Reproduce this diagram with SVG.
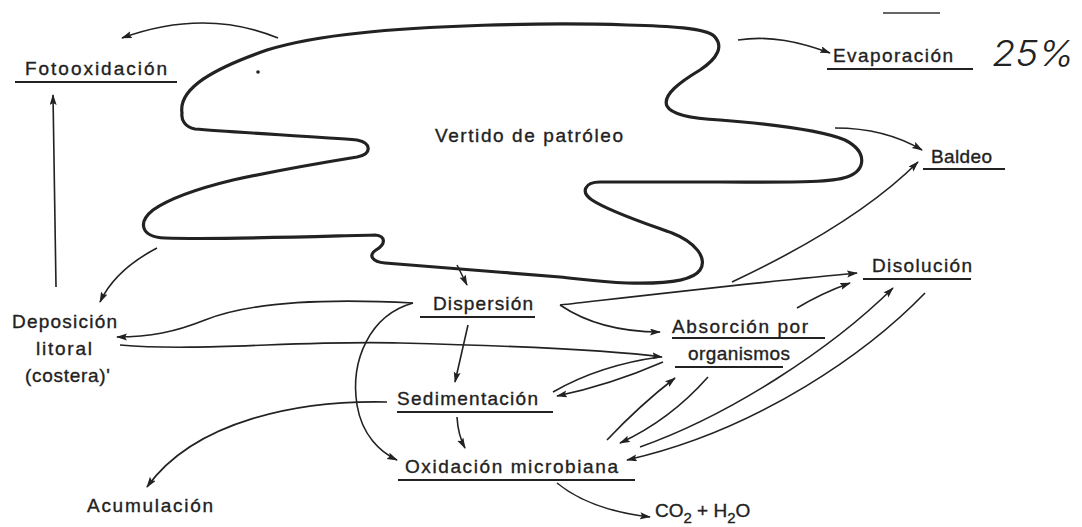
<svg xmlns="http://www.w3.org/2000/svg" width="1082" height="527" viewBox="0 0 1082 527">
<defs>
<marker id="ah" markerUnits="userSpaceOnUse" markerWidth="12" markerHeight="8" refX="10" refY="3.5" orient="auto">
<path d="M0,0 L11,3.5 L0,7 L2,3.5 Z" fill="#222"/>
</marker>
<style>
.t{font-family:"Liberation Sans",Arial,sans-serif;font-size:19px;fill:#222;stroke:#222;stroke-width:0.35;}
.u{stroke:#222;stroke-width:2;fill:none;}
.c{stroke:#222;stroke-width:1.6;fill:none;}
.a{marker-end:url(#ah);}
</style>
</defs>
<rect width="1082" height="527" fill="#fff"/>

<g id="vertido">
<path d="M 182,113 C 178,88 215,68 267,50 C 300,40 330,36 360,33 C 420,26 540,22 627,25 C 670,26 705,28 714,36 C 724,46 718,58 700,70 C 680,82 662,95 667,106 C 672,116 700,119 720,120 C 770,124 820,130 845,140 C 868,152 866,170 847,177 C 830,183 790,182 720,182 L 600,182 C 585,182 580,192 592,200 C 610,212 650,225 672,233 C 695,242 708,258 700,270 C 692,282 660,284 627,283 C 600,282 580,279 560,277 C 500,272 420,266 385,263 C 372,262 368,255 376,250 C 386,244 386,236 375,235 C 330,236 220,240 165,238 C 140,237 138,222 153,210 C 170,198 200,188 233,180 C 270,172 320,163 357,157 C 372,154 372,143 357,140 C 320,137 230,132 195,129 C 185,127 181,120 182,113 Z" fill="none" stroke="#222" stroke-width="3.2" stroke-linejoin="round"/>
<circle cx="258" cy="72" r="1.8" fill="#222"/>
<text class="t" x="435" y="142" font-size="18" textLength="188" lengthAdjust="spacing" stroke-width="0.15">Vertido de patróleo</text>
</g>

<g id="fotooxidacion">
<text class="t" x="25" y="75" textLength="142" lengthAdjust="spacing">Fotooxidación</text>
<line class="u" x1="15" y1="82" x2="177" y2="82"/>
</g>

<g id="evaporacion">
<text class="t" x="833" y="62" textLength="120" lengthAdjust="spacing">Evaporación</text>
<line class="u" x1="827" y1="69" x2="973" y2="69"/>
<line x1="883" y1="13" x2="940" y2="13" stroke="#333" stroke-width="1.4"/>
<text x="992" y="66" font-family="Inter,'Open Sans',sans-serif" font-style="italic" font-weight="300" font-size="36" fill="#222" textLength="82" lengthAdjust="spacingAndGlyphs">25%</text>
</g>

<g id="baldeo">
<text class="t" x="931" y="163" textLength="61" lengthAdjust="spacing">Baldeo</text>
<line class="u" x1="923" y1="169" x2="1005" y2="169"/>
</g>

<g id="disolucion">
<text class="t" x="872" y="272" textLength="100" lengthAdjust="spacing">Disolución</text>
<line class="u" x1="863" y1="279" x2="971" y2="279"/>
</g>

<g id="absorcion">
<text class="t" x="672" y="333" textLength="136" lengthAdjust="spacing">Absorción por</text>
<line class="u" x1="672" y1="338" x2="825" y2="338"/>
<text class="t" x="688" y="360" textLength="102" lengthAdjust="spacing">organismos</text>
<line class="u" x1="675" y1="367" x2="783" y2="367"/>
</g>

<g id="dispersion">
<text class="t" x="433" y="310" textLength="100" lengthAdjust="spacing">Dispersión</text>
<line class="u" x1="420" y1="317" x2="535" y2="317"/>
</g>

<g id="sedimentacion">
<text class="t" x="397" y="405" textLength="141" lengthAdjust="spacing">Sedimentación</text>
<line class="u" x1="397" y1="412" x2="553" y2="412"/>
</g>

<g id="oxidacion">
<text class="t" x="405" y="473" textLength="213" lengthAdjust="spacing">Oxidación microbiana</text>
<line class="u" x1="398" y1="480" x2="635" y2="480"/>
</g>

<g id="deposicion">
<text class="t" x="12" y="328" textLength="105" lengthAdjust="spacing">Deposición</text>
<text class="t" x="36" y="355" textLength="56" lengthAdjust="spacing">litoral</text>
<text class="t" x="25" y="382" textLength="85" lengthAdjust="spacing">(costera)'</text>
</g>

<g id="acumulacion">
<text class="t" x="87" y="512" textLength="126" lengthAdjust="spacing">Acumulación</text>
</g>

<g id="co2h2o">
<text class="t" x="655" y="517" stroke-width="0.6">CO<tspan font-size="15" dy="6">2</tspan><tspan dy="-6"> + H</tspan><tspan font-size="15" dy="6">2</tspan><tspan dy="-6">O</tspan></text>
</g>

<g id="connectors">
<path class="c a" d="M 278,38 Q 205,8 122,38"/>
<path class="c a" d="M 56,287 L 53,95"/>
<path class="c a" d="M 157,248 Q 115,270 100,302"/>
<path class="c a" d="M 413,303 C 320,298 250,302 205,320 C 175,332 150,337 117,337"/>
<path class="c a" d="M 120,345 C 200,352 300,340 400,343 C 520,346 610,350 662,357"/>
<path class="c a" d="M 560,305 C 640,296 760,282 857,273"/>
<path class="c a" d="M 560,305 Q 600,332 660,332"/>
<path class="c a" d="M 468,325 L 455,382"/>
<path class="c a" d="M 457,265 L 467,285"/>
<path class="c a" d="M 413,303 C 370,315 350,360 357,405 C 362,435 380,452 397,460"/>
<path class="c a" d="M 387,402 C 300,400 195,420 147,487"/>
<path class="c a" d="M 457,417 Q 458,435 465,448"/>
<path class="c a" d="M 557,483 Q 590,510 650,517"/>
<path class="c" d="M 553,392 Q 600,365 660,357"/>
<path class="c a" d="M 663,362 Q 610,385 557,396"/>
<path class="c a" d="M 607,440 Q 640,405 675,378"/>
<path class="c a" d="M 708,377 Q 670,420 620,443"/>
<path class="c a" d="M 640,447 C 730,415 830,350 893,288"/>
<path class="c a" d="M 925,293 C 870,350 760,430 627,460"/>
<path class="c a" d="M 797,308 Q 822,293 850,283"/>
<path class="c a" d="M 835,128 Q 885,128 922,150"/>
<path class="c a" d="M 732,282 C 800,250 870,210 918,162"/>
<path class="c a" d="M 738,40 C 770,35 800,42 830,53"/>
</g>
</svg>
